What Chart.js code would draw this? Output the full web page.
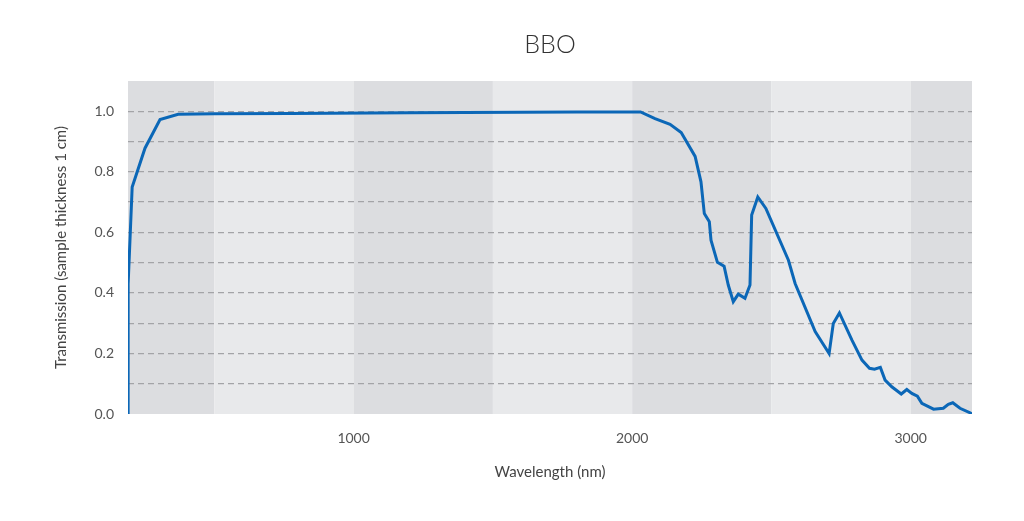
<!DOCTYPE html>
<html>
<head>
<meta charset="utf-8">
<script src="https://cdn.jsdelivr.net/npm/chart.js@4.4.0/dist/chart.umd.min.js"></script>
<style>
html,body{margin:0;padding:0;background:#fff;}
#wrap{width:1024px;height:521px;position:relative;}
</style>
</head>
<body>
<div id="wrap"><canvas id="c"></canvas></div>
<script>
const wavelengths = [190, 190.5, 205, 251, 305, 370, 500, 772, 1200, 1600, 1800, 2030, 2082, 2136, 2176, 2226, 2247, 2259, 2277, 2283, 2306, 2330, 2345, 2363, 2381, 2405, 2423, 2429, 2451, 2480, 2561, 2585, 2657, 2707, 2722, 2744, 2789, 2825, 2852, 2870, 2891, 2908, 2932, 2966, 2986, 3004, 3024, 3040, 3082, 3117, 3135, 3151, 3177, 3213, 3220];
const transmission = [0.0, 0.43, 0.75, 0.878, 0.973, 0.99, 0.992, 0.993, 0.995, 0.997, 0.998, 0.998, 0.976, 0.957, 0.93, 0.851, 0.767, 0.662, 0.635, 0.574, 0.501, 0.488, 0.426, 0.371, 0.396, 0.382, 0.426, 0.657, 0.717, 0.679, 0.508, 0.431, 0.272, 0.2, 0.299, 0.334, 0.244, 0.178, 0.151, 0.148, 0.154, 0.112, 0.09, 0.066, 0.081, 0.068, 0.059, 0.035, 0.016, 0.019, 0.032, 0.037, 0.019, 0.004, 0.0];
const xTicks = [1000, 2000, 3000];
const yTickLabels = [0.0, 0.2, 0.4, 0.6, 0.8, 1.0];
const bandEdges = [190, 500, 1000, 1500, 2000, 2500, 3000, 3220];
const titleText = 'BBO';

const FONT = "Lato, 'Noto Sans', sans-serif";

const bandPlugin = {
  id: 'bands',
  beforeDraw(chart) {
    const {ctx, chartArea, scales} = chart;
    const x = scales.x;
    ctx.save();
    for (let i = 0; i < bandEdges.length - 1; i++) {
      const x0 = x.getPixelForValue(bandEdges[i]);
      const x1 = x.getPixelForValue(bandEdges[i + 1]);
      ctx.fillStyle = (i % 2 === 0) ? '#dcdde0' : '#e8e9eb';
      ctx.fillRect(x0, chartArea.top, x1 - x0, chartArea.bottom - chartArea.top);
    }
    ctx.restore();
  }
};

const titlePlugin = {
  id: 'centerTitle',
  afterDraw(chart) {
    const {ctx, chartArea} = chart;
    ctx.save();
    ctx.fillStyle = '#333';
    ctx.font = "300 25px " + FONT;
    ctx.textAlign = 'center';
    ctx.textBaseline = 'middle';
    ctx.fillText(titleText, (chartArea.left + chartArea.right) / 2, 45);
    ctx.restore();
  }
};

new Chart(document.getElementById('c'), {
  type: 'line',
  data: {
    datasets: [{
      data: wavelengths.map((w, i) => ({x: w, y: transmission[i]})),
      borderColor: '#0b67b7',
      borderWidth: 3,
      pointRadius: 0,
      tension: 0,
      fill: false
    }]
  },
  options: {
    responsive: true,
    maintainAspectRatio: false,
    animation: false,
    layout: {padding: {left: 48, right: 52, top: 81, bottom: 40}},
    plugins: {
      legend: {display: false},
      tooltip: {enabled: false},
      title: {display: false}
    },
    scales: {
      x: {
        type: 'linear',
        min: 190,
        max: 3220,
        afterBuildTicks(scale) { scale.ticks = xTicks.map(v => ({value: v})); },
        afterFit(scale) { scale.height = 67; },
        grid: {display: false, drawTicks: false},
        border: {display: false},
        ticks: {color: '#555', font: {family: FONT, size: 14}, padding: 16, maxRotation: 0,
                callback(v) { return String(v); }},
        title: {display: true, text: 'Wavelength (nm)', color: '#444', font: {family: FONT, size: 15}, padding: {top: 8, bottom: 0}}
      },
      y: {
        min: 0,
        max: 1.1,
        afterBuildTicks(scale) {
          const t = [];
          for (let i = 0; i <= 10; i++) t.push({value: i / 10});
          scale.ticks = t;
        },
        afterFit(scale) { scale.width = 80; },
        grid: {
          color: (c) => (c.tick && c.tick.value > 0.001) ? '#a3a4a7' : 'rgba(0,0,0,0)',
          lineWidth: 1.2,
          drawTicks: false
        },
        border: {display: false, dash: [6, 4]},
        ticks: {
          color: '#555',
          font: {family: FONT, size: 14},
          padding: 14,
          callback(v) {
            const r = Math.round(v * 10);
            return (r % 2 === 0) ? (r / 10).toFixed(1) : '';
          }
        },
        title: {display: true, text: 'Transmission (sample thickness 1 cm)', color: '#444', font: {family: FONT, size: 15}, padding: {bottom: 8}}
      }
    }
  },
  plugins: [bandPlugin, titlePlugin]
});
</script>
</body>
</html>
